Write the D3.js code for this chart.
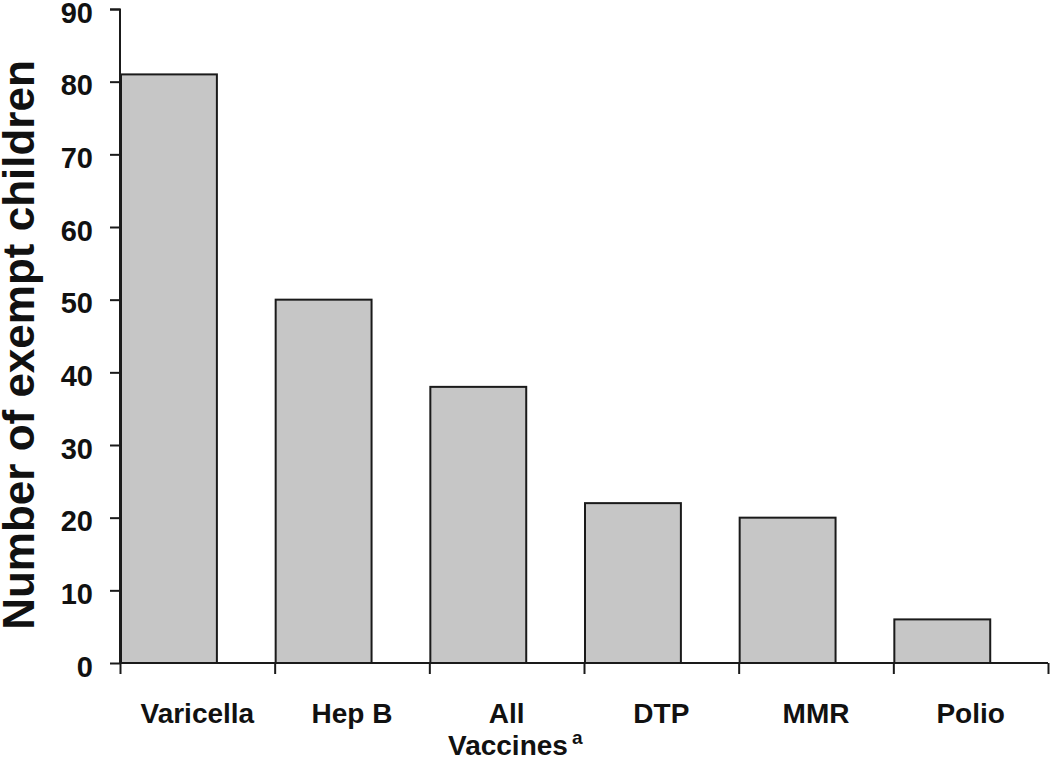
<!DOCTYPE html>
<html>
<head>
<meta charset="utf-8">
<script src="https://cdn.jsdelivr.net/npm/d3@7"></script>
<style>
  body { margin: 0; background: #fff; }
  svg { display: block; font-family: "Liberation Sans", Arial, sans-serif; font-weight: bold; }
</style>
</head>
<body>
<svg id="chart" width="1050" height="763"></svg>
<script>
// data
const vaccines = ['Varicella', 'Hep B', 'All', 'DTP', 'MMR', 'Polio'];
const exempt = [81, 50, 38, 22, 20, 6];
const yTicks = [0, 10, 20, 30, 40, 50, 60, 70, 80, 90];

const data = vaccines.map((v, i) => ({ name: v, value: exempt[i] }));

const svg = d3.select('#chart');

const margin = { top: 9, right: 2, bottom: 100, left: 120 };
const width = 1050 - margin.left - margin.right;
const height = 763 - margin.top - margin.bottom;

const graph = svg.append('g')
    .attr('transform', `translate(${margin.left}, ${margin.top})`);

// scales
const y = d3.scaleLinear().domain([0, 90]).range([height, 0]);
const x = d3.scaleBand().domain(vaccines).range([0, width]).paddingInner(0).paddingOuter(0);
const barW = x.bandwidth() * 0.62;

// bars
graph.selectAll('rect')
    .data(data)
    .enter()
    .append('rect')
    .attr('x', d => x(d.name) + 1)
    .attr('y', d => y(d.value))
    .attr('width', barW)
    .attr('height', d => height - y(d.value))
    .attr('fill', '#c6c6c6')
    .attr('stroke', '#1a1a1a')
    .attr('stroke-width', 2);

// y axis
const yAxis = d3.axisLeft(y)
    .tickValues(yTicks)
    .tickSize(10)
    .tickPadding(17)
    .tickFormat(d3.format('d'));

const yAxisGroup = graph.append('g').call(yAxis);
yAxisGroup.select('.domain').attr('stroke', '#1a1a1a').attr('stroke-width', 2).attr('d', `M-10,0.5H0V${height}`);
yAxisGroup.selectAll('.tick line').attr('stroke', '#1a1a1a').attr('stroke-width', 2);
yAxisGroup.selectAll('text')
    .attr('font-size', 29)
    .attr('font-family', '"Liberation Sans", Arial, sans-serif')
    .attr('font-weight', 'bold')
    .attr('fill', '#111')
    .attr('dy', '0.45em');

// x axis: tick marks at category boundaries
const xb = d3.scaleLinear().domain([0, vaccines.length]).range([0, width]);
const xTickAxis = d3.axisBottom(xb).ticks(vaccines.length).tickSize(11).tickFormat('');
const xTickGroup = graph.append('g').attr('transform', `translate(0, ${height})`).call(xTickAxis);
xTickGroup.select('.domain').attr('stroke', '#1a1a1a').attr('stroke-width', 2).attr('d', `M0,0H${width}`);
xTickGroup.selectAll('.tick line').attr('stroke', '#1a1a1a').attr('stroke-width', 2);

// x labels
const xAxis = d3.axisBottom(x).tickSize(0);
const xAxisGroup = graph.append('g').attr('transform', `translate(0, ${height})`).call(xAxis);
xAxisGroup.select('.domain').remove();
xAxisGroup.selectAll('text')
    .attr('font-size', 28)
    .attr('font-family', '"Liberation Sans", Arial, sans-serif')
    .attr('font-weight', 'bold')
    .attr('fill', '#111')
    .attr('y', 60)
    .attr('dy', 0);

// axis titles
const xTitle = svg.append('text')
    .attr('x', margin.left + 328)
    .attr('y', 755)
    .attr('font-size', 28)
    .attr('fill', '#111')
    .text('Vaccines');
xTitle.append('tspan')
    .attr('dx', 4)
    .attr('dy', -11)
    .attr('font-size', 19)
    .text('a');

svg.append('text')
    .attr('transform', 'rotate(-90)')
    .attr('x', -345)
    .attr('y', 34)
    .attr('text-anchor', 'middle')
    .attr('font-size', 44)
    .attr('fill', '#111')
    .text('Number of exempt children');
</script>
</body>
</html>
